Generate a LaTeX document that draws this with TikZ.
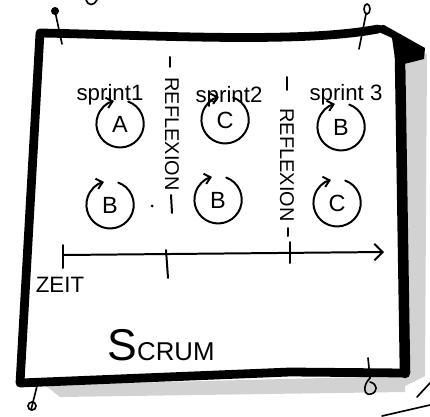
\documentclass[tikz,border=0pt]{standalone}
\usepackage{fontspec}
\setmainfont{Liberation Sans}
\usetikzlibrary{arrows.meta}

\begin{document}
\begin{tikzpicture}[x=0.03cm, y=0.03cm,
    every node/.style={font=\fontsize{19}{21}\selectfont},
    frame/.style={line width=7.5pt, line join=round, line cap=round},
    pen/.style={line width=1.7pt, line cap=round},
    pin/.style={line width=1.4pt, line cap=round},
    cyc/.style={circle, minimum size=1.42cm, inner sep=0pt, font=\fontsize{20}{22}\selectfont},
    loopline/.style={pen, -{Straight Barb[length=5pt, width=9pt]}},
    refl/.style={rotate=-90, font=\fontsize{17}{19}\selectfont},
    shadow/.style={fill=gray!35, draw=none}
]
    \useasboundingbox (0,0) rectangle (430,416);
    % shadow of the sheet
    \fill[shadow] (406,365) -- (427,362) -- (425,40) -- (405,30) -- cycle;
    \fill[shadow] (45,31) -- (405,40) -- (405,24) -- (60,19) -- cycle;
    % frame
    \draw[frame] (378,387) .. controls (300,372) and (150,381) .. (40,383)
        -- (20,33) -- (290,44) -- (405,43);
    \draw[frame, line width=9pt] (405,43) -- (400,360);
    \fill (368,389) -- (384,391) -- (425,368) -- (424,357) -- (396,350) -- (392,378) -- cycle;
    % pins
    \fill (55,405) circle[radius=4];
    \draw[pin] (55,405) -- (62,372);
    \draw[pin] (367,407) ellipse[x radius=3, y radius=5];
    \draw[pin] (366,402) -- (359,367);
    \draw[pin] (38,34) -- (31,6);
    \draw[pin] (32,10) circle[radius=4];
    \draw[pin] (368,58) -- (370,38);
    \draw[pin] (370,38) .. controls (362,30) and (364,20) .. (371,22) .. controls (378,24) and (378,32) .. (370,34);
    \draw[pin] (86,416) .. controls (88,410) and (94,410) .. (97,416);
    \draw[pin] (417,19) -- (430,33);
    \draw[pin] (382,0) -- (430,11);
    % sprint labels
    \node (s1) at (110,321) {sprint1};
    \node (s2) at (229,319) {sprint2};
    \node (s3) at (346,321) {sprint 3};
    % backlog items
    \node[cyc] (c11) at (120,292) {A};
    \node[cyc] (c21) at (225,296) {C};
    \node[cyc] (c31) at (341,289) {B};
    \node[cyc] (c12) at (110,211) {B};
    \node[cyc] (c22) at (218,216) {B};
    \node[cyc] (c32) at (337,213) {C};
    \draw[loopline] (c11.70) arc[start angle=70, end angle=-255, radius=0.71cm];
    \draw[loopline] (c21.70) arc[start angle=70, end angle=-255, radius=0.71cm];
    \draw[loopline] (c31.70) arc[start angle=70, end angle=-255, radius=0.71cm];
    \draw[loopline] (c12.70) arc[start angle=70, end angle=-255, radius=0.71cm];
    \draw[loopline] (c22.70) arc[start angle=70, end angle=-255, radius=0.71cm];
    \draw[loopline] (c32.70) arc[start angle=70, end angle=-255, radius=0.71cm];
    % reflexion separators
    \node[refl] (r1) at (172,282) {REFLEXION};
    \node[refl] (r2) at (287,251) {REFLEXION};
    \draw[pen] (170,359) -- (170,349);
    \draw[pen] (171,221) -- (172,203);
    \fill (152,210) circle[radius=1.5];
    \draw[pen] (287,339) -- (287,326);
    \draw[pen] (288,188) -- (288,180);
    % time axis
    \coordinate (t0) at (64,161);
    \coordinate (t1) at (384,164);
    \draw[pen, -{Straight Barb[length=7pt, width=14pt]}] (t0) -- (t1);
    \draw[pen] (63,171) -- (63,148);
    \draw[pen] (166,166) -- (168,138);
    \draw[pen] (290,174) -- (290,153);
    \node (zeit) at (60,131) {ZEIT};
    % title
    \node (title) at (161,71) {{\fontsize{38}{40}\selectfont S}{\fontsize{22}{24}\selectfont CRUM}};
\end{tikzpicture}
\end{document}
